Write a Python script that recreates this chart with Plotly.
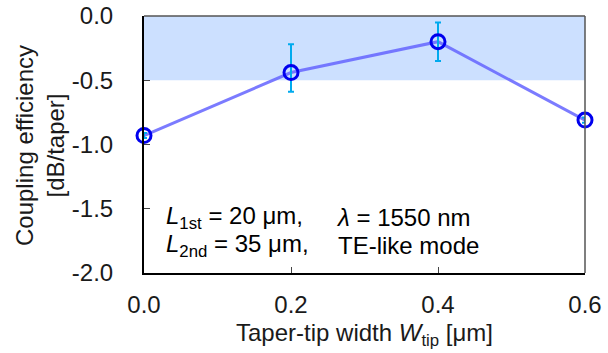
import plotly.graph_objects as go

widths = [0.0, 0.2, 0.4, 0.6]
efficiency = [-0.93, -0.44, -0.20, -0.81]
err_plus = [0.02, 0.22, 0.15, 0.02]
err_minus = [0.02, 0.15, 0.15, 0.02]
band = [-0.5, 0.0]
xticks = [0.0, 0.2, 0.4, 0.6]
yticks = [0.0, -0.5, -1.0, -1.5, -2.0]

FONT = "Liberation Sans, Arial, sans-serif"
L, R, T, B = 144, 23, 16, 80
W, H = 608, 353
PW, PH = W - L - R, H - T - B


def px_x(px):
    return (px - L) / PW


def px_y(py):
    return 1 - (py - T) / PH


fig = go.Figure()
fig.add_trace(go.Scatter(
    x=widths, y=efficiency, mode="lines",
    line=dict(color="rgba(100,100,255,0.85)", width=3),
    cliponaxis=False, showlegend=False, hoverinfo="skip"))
fig.add_trace(go.Scatter(
    x=widths, y=efficiency, mode="markers",
    marker=dict(symbol="circle-open", size=14, color="#0000ee", line=dict(width=3, color="#0000ee")),
    error_y=dict(type="data", symmetric=False, array=err_plus, arrayminus=err_minus,
                 color="#00aaee", thickness=2, width=3),
    cliponaxis=False, showlegend=False))

fig.add_shape(type="rect", xref="paper", yref="y", x0=0, x1=1, y0=band[0], y1=band[1],
              fillcolor="#cce0ff", line_width=0, layer="below")
fig.add_shape(type="line", xref="paper", yref="paper", x0=0, x1=1, y0=1, y1=1,
              line=dict(color="#555555", width=1.5))
fig.add_shape(type="line", xref="paper", yref="paper", x0=1, x1=1, y0=0, y1=1,
              line=dict(color="#555555", width=1.5))

fig.update_layout(
    width=W, height=H, autosize=False,
    margin=dict(l=L, r=R, t=T, b=B, pad=0, autoexpand=False),
    plot_bgcolor="white", paper_bgcolor="white",
    font=dict(family=FONT, size=24, color="#1a1a1a"),
    xaxis=dict(range=[0, 0.6], tickvals=xticks, ticktext=[f"{v:.1f}" for v in xticks],
               automargin=False,
               ticks="inside", ticklen=6, tickcolor="#444", showgrid=False, zeroline=False,
               showline=True, linecolor="black", linewidth=2, ticklabelstandoff=9),
    yaxis=dict(range=[-2, 0], tickvals=yticks, ticktext=[f"{v:.1f}" for v in yticks],
               automargin=False,
               ticks="inside", ticklen=6, tickcolor="#444", showgrid=False, zeroline=False,
               showline=True, linecolor="black", linewidth=2, ticklabelstandoff=24),
)

# axis titles
fig.add_annotation(text="Coupling efficiency<br>[dB/taper]", xref="paper", yref="paper",
                   x=px_x(40), y=px_y(146), xanchor="center", yanchor="middle",
                   textangle=-90, showarrow=False, font=dict(size=24, color="#1a1a1a"))
fig.add_annotation(text="Taper-tip width <i>W</i><sub>tip</sub> [μm]", xref="paper", yref="paper",
                   x=px_x(364), y=px_y(334), xanchor="center", yanchor="middle",
                   showarrow=False, font=dict(size=24, color="#1a1a1a"))

ann = [
    ("<i>L</i><sub>1st</sub> = 20 μm,", 164, 217),
    ("<i>L</i><sub>2nd</sub> = 35 μm,", 164, 245),
    ("<i>λ</i> = 1550 nm", 334, 217),
    ("TE-like mode", 336, 245),
]
for t, px, py in ann:
    fig.add_annotation(text=t, xref="paper", yref="paper",
                       x=px_x(px), y=px_y(py),
                       xanchor="left", yanchor="middle", showarrow=False,
                       font=dict(size=24, color="black"))

fig.write_html("out.html")
